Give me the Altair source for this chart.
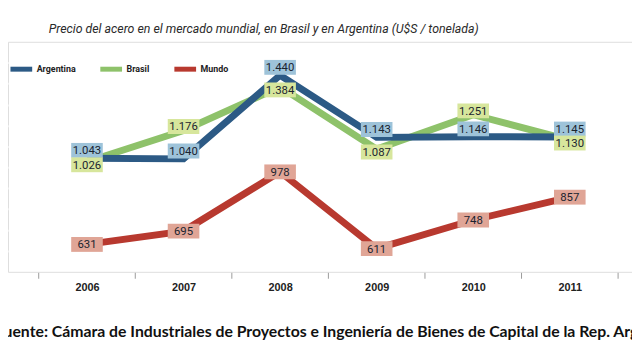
import altair as alt
import pandas as pd

years = [2006, 2007, 2008, 2009, 2010, 2011]
series_names = ["Argentina", "Brasil", "Mundo"]
argentina = [1043, 1040, 1440, 1143, 1146, 1145]
brasil = [1026, 1176, 1384, 1087, 1251, 1130]
mundo = [631, 695, 978, 611, 748, 857]

title_text = "Precio del acero en el mercado mundial, en Brasil y en Argentina (U$S / tonelada)"
source_text = "Fuente: Cámara de Industriales de Proyectos e Ingeniería de Bienes de Capital de la Rep. Argentina"

line_colors = ["#2c5a85", "#8ec26a", "#b8392f"]
box_colors = ["#9ec3d9", "#d7e69c", "#e0a596"]

rows = []
for name, vals in zip(series_names, [argentina, brasil, mundo]):
    for yr, v, a in zip(years, vals, argentina):
        rows.append({"year": yr, "serie": name, "valor": v, "arg": a,
                     "etiqueta": f"{v:,}".replace(",", ".")})
df = pd.DataFrame(rows)

W, H = 632, 233
xdom = [2006 - 80 / 97.8, 2006 + (W - 80) / 97.8]
FONT = "Roboto, sans-serif"

xs = alt.X("year:Q", scale=alt.Scale(domain=xdom, nice=False, zero=False),
           axis=alt.Axis(values=years, format="d", ticks=False, domain=False, grid=False,
                         labelFontWeight="bold", labelFontSize=11, labelColor="#222222",
                         labelPadding=10, labelFont="Liberation Sans, Arial, sans-serif", title=None))
ys = alt.Y("valor:Q", scale=alt.Scale(domain=[500, 1600], nice=False, zero=False),
           axis=alt.Axis(values=list(range(600, 1600, 100)), labels=False, ticks=False, domain=False,
                         grid=True, gridColor="#ffffff", gridWidth=2, title=None))

base = alt.Chart(df)
color_scale = alt.Scale(domain=series_names, range=line_colors)
fill_scale = alt.Scale(domain=series_names, range=box_colors)

line_layers = []
for i, name in enumerate(["Mundo", "Brasil", "Argentina"]):
    if i == 0:
        enc_color = alt.Color("serie:N", scale=color_scale,
                              legend=alt.Legend(orient="none", legendX=0, legendY=14, direction="horizontal",
                                                title=None, symbolType="stroke", symbolStrokeWidth=5,
                                                symbolSize=484, labelFont=FONT, labelFontWeight="bold",
                                                labelFontSize=9, labelColor="#222222", columnPadding=14,
                                                labelOffset=2, values=series_names))
    else:
        enc_color = alt.Color("serie:N", scale=color_scale, legend=None)
    line_layers.append(
        base.transform_filter(alt.datum.serie == name).mark_line(strokeWidth=7, strokeJoin="miter").encode(
            x=xs, y=ys, color=enc_color,
        )
    )

# label groups: (filter, pixel shift)
groups = [
    ((alt.datum.serie == "Argentina"), -8),
    ((alt.datum.serie == "Brasil") & (alt.datum.valor < alt.datum.arg), 3),
    ((alt.datum.serie == "Brasil") & (alt.datum.valor >= alt.datum.arg), -4),
    ((alt.datum.serie == "Mundo"), 0),
]

label_layers = []
for flt, off in groups:
    sub = base.transform_filter(flt)
    label_layers.append(
        sub.mark_point(shape="M-1,-0.47H1V0.47H-1Z", size=1024, filled=True, opacity=1,
                       yOffset=off, strokeWidth=0).encode(
            x=xs, y=ys,
            fill=alt.Fill("serie:N", scale=fill_scale, legend=None),
        )
    )
    label_layers.append(
        sub.mark_text(font=FONT, fontSize=11.5, color="#1b2430", dy=off + 1).encode(
            x=xs, y=ys, text="etiqueta:N"
        )
    )

boundaries = [y - 0.5 for y in years] + [years[-1] + 0.5]
ticks = alt.Chart(pd.DataFrame({"b": boundaries})).mark_rule(color="#9a9a9a", strokeWidth=1).encode(
    x=alt.X("b:Q", scale=alt.Scale(domain=xdom, nice=False, zero=False)),
    y=alt.value(H + 1), y2=alt.value(H + 7),
)

title = alt.Chart(pd.DataFrame({"t": [title_text]})).mark_text(
    font=FONT, fontStyle="italic", fontSize=12.5, color="#2a2a2a", align="center", baseline="alphabetic"
).encode(text="t:N", x=alt.value(259), y=alt.value(-9))

source = alt.Chart(pd.DataFrame({"t": [source_text]})).mark_text(
    font="Lato, sans-serif", fontWeight="bold", fontSize=16, color="#111111", align="left", baseline="alphabetic"
).encode(text="t:N", x=alt.value(-13), y=alt.value(299))

chart = alt.layer(*line_layers, *label_layers, ticks, title, source).properties(
    width=W, height=H,
    autosize=alt.AutoSizeParams(type="none"),
    padding={"left": 0, "top": 32, "right": 0, "bottom": 81},
).configure_view(fill="#e6e6e6", stroke=None).configure(background="#ffffff")

chart.save("out.html", embed_options={"renderer": "svg", "actions": False})
